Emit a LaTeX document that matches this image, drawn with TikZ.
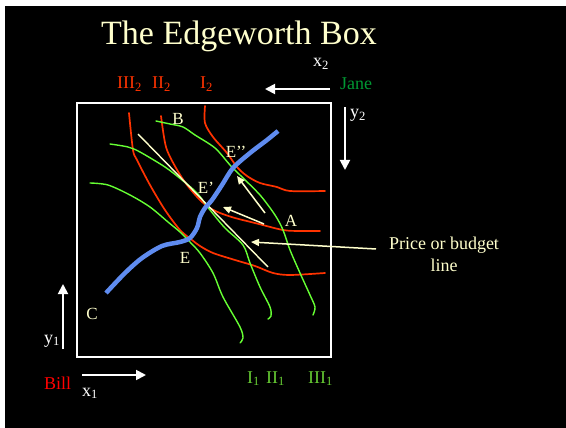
\documentclass[tikz,border=0pt]{standalone}
\usepackage{fontspec}
\setmainfont{Liberation Serif}
\usetikzlibrary{arrows.meta}
\definecolor{cream}{HTML}{FFFFCC}
\definecolor{icred}{HTML}{FF3300}
\definecolor{icgreen}{HTML}{66FF33}
\definecolor{lblgreen}{HTML}{66CC33}
\definecolor{janegreen}{HTML}{009933}
\definecolor{billred}{HTML}{FF0000}
\definecolor{ccblue}{RGB}{95,140,240}
\begin{document}
\begin{tikzpicture}[x=1pt,y=-1pt,
  lbl/.style={text=cream, font=\fontsize{17}{20}\selectfont, inner sep=0pt},
  tlbl/.style={font=\fontsize{18}{21}\selectfont, inner sep=0pt, anchor=base west},
  redic/.style={draw=icred, line width=1.7pt, line join=round, line cap=round},
  grnic/.style={draw=icgreen, line width=1.4pt, line join=round, line cap=round},
  warrow/.style={draw=white, line width=1.8pt, -{Triangle[length=10pt,width=10pt]}},
  carrow/.style={draw=cream, line width=1.5pt, -{Triangle[length=8pt,width=7pt]}},
]
\useasboundingbox (0,0) rectangle (566,428);
\fill[white] (0,0) rectangle (566,428);
\fill[black] (5,6) rectangle (566,428);

% title
\node[text=cream, font=\fontsize{34}{40}\selectfont, inner sep=0pt, anchor=base] (title) at (239,45) {The Edgeworth Box};

% box
\draw[white, line width=2pt] (77,103) rectangle (331,357);

% Jane's indifference curves (red)
\draw[redic] plot[smooth, tension=0.5] coordinates {(129,113) (133,150) (137,160) (150,185) (165,210) (180,230) (192,240) (200,246) (213,253) (235,260) (255,266) (273,273) (290,275) (325,273)};
\draw[redic] plot[smooth, tension=0.5] coordinates {(161,116) (166,147) (176,168) (187,185) (200,200) (210,208) (220,213) (235,218) (255,223) (283,230) (300,231) (320,231)};
\draw[redic] plot[smooth, tension=0.5] coordinates {(205,106) (205,123) (213,137) (227,153) (237,167) (247,176) (260,183) (277,187) (290,191) (325,191)};

% Bill's indifference curves (green)
\draw[grnic] plot[smooth, tension=0.5] coordinates {(90,183) (108,185) (130,195) (150,207) (168,222) (180,232) (190,242) (200,253) (213,273) (223,297) (240,327) (243,338) (240,343)};
\draw[grnic] plot[smooth, tension=0.5] coordinates {(110,144) (128,147) (140,152) (165,167) (182,180) (197,193) (210,210) (225,228) (243,245) (250,263) (260,287) (270,307) (271,316) (268,319)};
\draw[grnic] plot[smooth, tension=0.5] coordinates {(156,121) (170,124) (183,127) (195,135) (215,148) (230,165) (240,175) (260,195) (275,215) (283,230) (290,250) (300,273) (310,295) (315,307) (313,315)};

% budget line
\coordinate (bl1) at (138,134);
\coordinate (bl2) at (268,267);
\draw[cream, line width=1.4pt] (bl1) -- (bl2);

% contract curve
\draw[ccblue, line width=4.5pt, line cap=butt, line join=round] plot[smooth, tension=0.5] coordinates {(106,293) (125,273) (142,258) (162,246) (180,242) (190,238) (197,228) (200,217) (205,208) (212,200) (222,185) (233,168) (250,153) (267,140) (278,131)};

% point labels
\node[lbl] (B) at (178,119) {B};
\node[lbl] (Epp) at (236,152) {E’’};
\node[lbl] (Ep) at (206,188) {E’};
\node[lbl] (A) at (291,221) {A};
\node[lbl] (E) at (185,258) {E};
\node[lbl] (C) at (92,314) {C};

% cream arrows
\coordinate (a1s) at (265,213); \coordinate (a1e) at (237,176);
\coordinate (a2s) at (264,224); \coordinate (a2e) at (223,207);
\draw[carrow] (a1s) -- (a1e);
\draw[carrow] (a2s) -- (a2e);
\node[text=cream, font=\fontsize{18}{21}\selectfont, align=center, inner sep=0pt, anchor=base] (price) at (444,271) {Price or budget\\line};
\coordinate (p1s) at (376,249); \coordinate (p1e) at (251,242);
\draw[carrow] (p1s) -- (p1e);

% axis labels and arrows
\node[tlbl, text=white] (x2) at (313,67) {x\textsubscript{2}};
\node[tlbl, text=janegreen] (jane) at (340,90) {Jane};
\node[tlbl, text=white] (y2) at (350,118) {y\textsubscript{2}};
\node[tlbl, text=icred] (III2) at (117,89) {III\textsubscript{2}};
\node[tlbl, text=icred] (II2) at (152,89) {II\textsubscript{2}};
\node[tlbl, text=icred] (I2) at (200,89) {I\textsubscript{2}};
\coordinate (x2s) at (330,89); \coordinate (x2e) at (265,89);
\draw[warrow] (x2s) -- (x2e);
\coordinate (y2s) at (345,107); \coordinate (y2e) at (345,170);
\draw[warrow] (y2s) -- (y2e);

\node[tlbl, text=white] (y1) at (44,343) {y\textsubscript{1}};
\node[tlbl, text=billred] (bill) at (44,389) {Bill};
\node[tlbl, text=white] (x1) at (82,396) {x\textsubscript{1}};
\node[tlbl, text=lblgreen] (I1) at (247,383) {I\textsubscript{1}};
\node[tlbl, text=lblgreen] (II1) at (266,383) {II\textsubscript{1}};
\node[tlbl, text=lblgreen] (III1) at (308,383) {III\textsubscript{1}};
\coordinate (y1s) at (63,349); \coordinate (y1e) at (63,284);
\draw[warrow] (y1s) -- (y1e);
\coordinate (x1s) at (82,375); \coordinate (x1e) at (146,375);
\draw[warrow] (x1s) -- (x1e);
\end{tikzpicture}
\end{document}
